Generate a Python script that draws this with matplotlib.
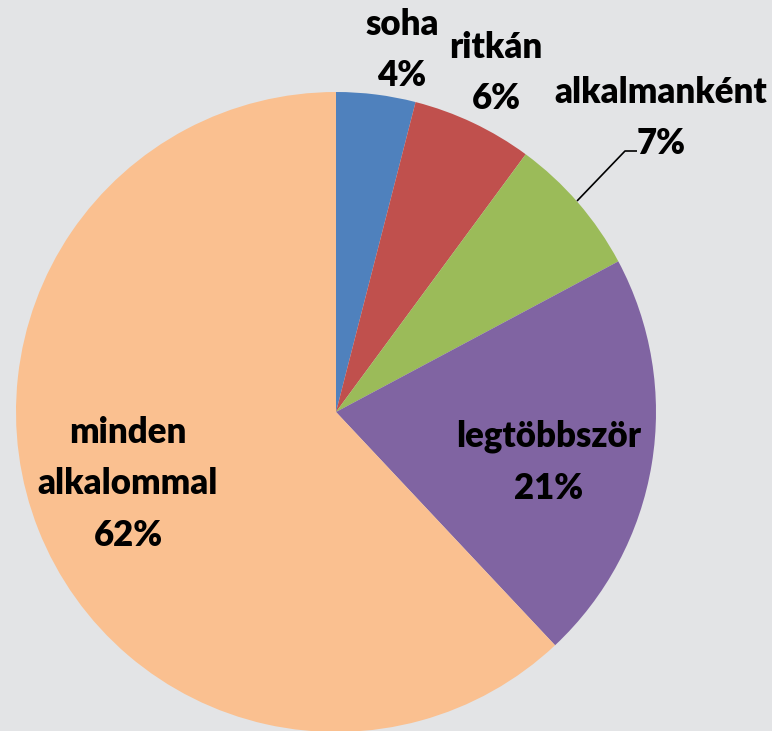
import matplotlib
matplotlib.use("Agg")
import matplotlib.pyplot as plt

categories = ["soha", "ritkán", "alkalmanként", "legtöbbször", "minden\nalkalommal"]
values = [4.0, 6.1, 7.1, 20.8, 62.0]
colors = ["#4f81bd", "#c0504d", "#9bbb59", "#8064a2", "#fac090"]
bg = "#e3e4e6"

W, H = 772, 731
fig = plt.figure(figsize=(W / 100, H / 100), dpi=100, facecolor=bg)
ax = fig.add_axes([0, 0, 1, 1])
ax.set_facecolor(bg)

cx, cy, r = 336, H - 412, 320
ax.pie(values, colors=colors, startangle=90, counterclock=False,
       center=(cx, cy), radius=r, frame=True,
       wedgeprops=dict(linewidth=0))
ax.set_xlim(0, W)
ax.set_ylim(0, H)
ax.set_aspect("equal")
ax.axis("off")

# label positions (pixel layout, y from top)
label_pos = [(402, 50), (496, 73), (661, 118), (549, 462), (128, 484)]
for cat, v, (x, y) in zip(categories, values, label_pos):
    ax.text(x, H - y, f"{cat}\n{round(v)}%", ha="center", va="center",
            fontsize=25, fontweight="heavy", family=["Lato", "DejaVu Sans"],
            linespacing=1.7, color="black")

# leader line for "alkalmanként"
ax.plot([577, 625, 637], [H - 201, H - 151, H - 151], color="black", lw=1.2,
        solid_capstyle="butt")

fig.savefig("out.png", dpi=100, facecolor=bg)
